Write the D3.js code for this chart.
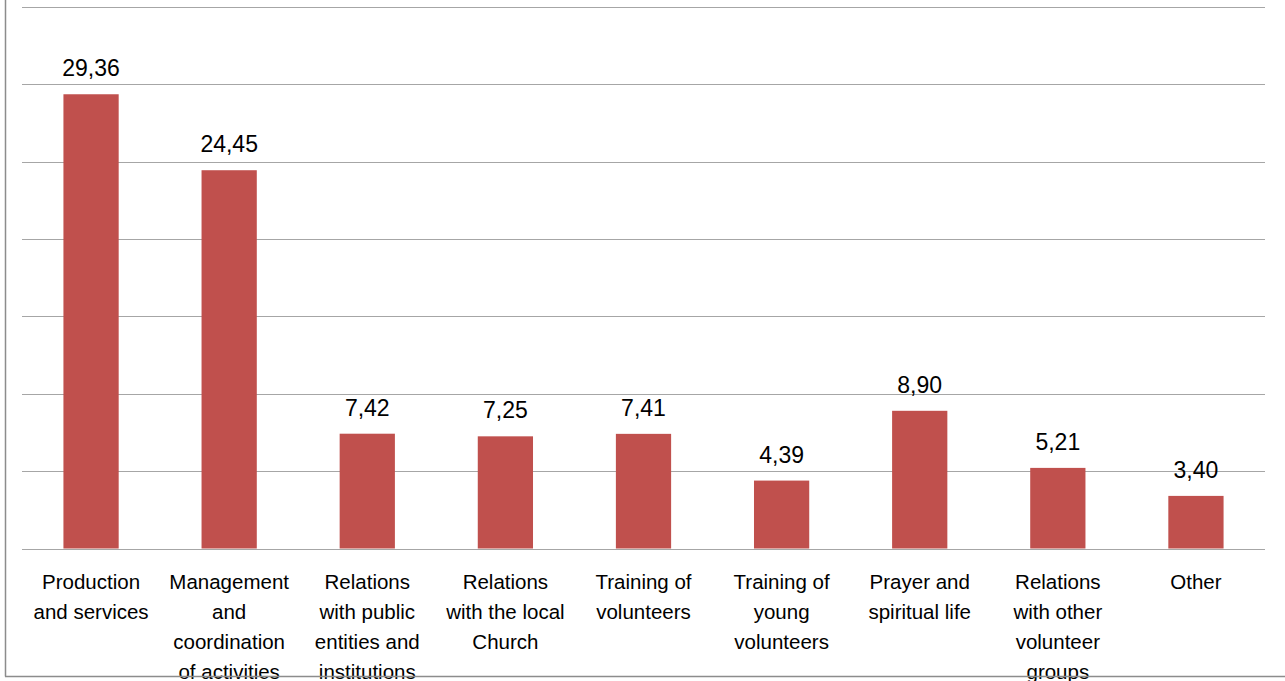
<!DOCTYPE html>
<html>
<head>
<meta charset="utf-8">
<script src="https://cdn.jsdelivr.net/npm/d3@7"></script>
<style>
html,body{margin:0;padding:0;background:#fff;overflow:hidden;}
svg{display:block;}
</style>
</head>
<body>
<script>
const categories = [
  "Production and services",
  "Management and coordination of activities",
  "Relations with public entities and institutions",
  "Relations with the local Church",
  "Training of volunteers",
  "Training of young volunteers",
  "Prayer and spiritual life",
  "Relations with other volunteer groups",
  "Other"
];
const categoryLines = [
  ["Production", "and services"],
  ["Management", "and", "coordination", "of activities"],
  ["Relations", "with public", "entities and", "institutions"],
  ["Relations", "with the local", "Church"],
  ["Training of", "volunteers"],
  ["Training of", "young", "volunteers"],
  ["Prayer and", "spiritual life"],
  ["Relations", "with other", "volunteer", "groups"],
  ["Other"]
];
const values = [29.36, 24.45, 7.42, 7.25, 7.41, 4.39, 8.90, 5.21, 3.40];
const valueLabels = ["29,36", "24,45", "7,42", "7,25", "7,41", "4,39", "8,90", "5,21", "3,40"];
const gridTicks = [0, 5, 10, 15, 20, 25, 30, 35];

const W = 1285, H = 681;
const svg = d3.select("body").append("svg").attr("width", W).attr("height", H);

const x = d3.scaleBand().domain(categories).range([22, 1265]).paddingInner(0.6).paddingOuter(0.3);
const y = d3.scaleLinear().domain([0, 35]).range([548.5, 7]);

// frame
svg.append("line").attr("x1", 5.5).attr("x2", 5.5).attr("y1", 0).attr("y2", 676.5)
  .attr("stroke", "#8c8c8c").attr("stroke-width", 1.5);

// gridlines
svg.append("g").selectAll("line").data(gridTicks).join("line")
  .attr("x1", 22).attr("x2", 1265)
  .attr("y1", d => Math.round(y(d)) + 0.5).attr("y2", d => Math.round(y(d)) + 0.5)
  .attr("stroke", "#a6a6a6").attr("stroke-width", 1);

// bars
svg.append("g").selectAll("rect").data(values).join("rect")
  .attr("x", (d, i) => x(categories[i]))
  .attr("width", x.bandwidth())
  .attr("y", d => y(d))
  .attr("height", d => y(0) - y(d))
  .attr("fill", "#C0504D");

// value labels
svg.append("g").selectAll("text").data(values).join("text")
  .attr("x", (d, i) => x(categories[i]) + x.bandwidth() / 2)
  .attr("y", d => y(d) - 18)
  .attr("text-anchor", "middle")
  .attr("font-family", "'Liberation Sans', Arial, sans-serif")
  .attr("font-size", 23)
  .attr("fill", "#000")
  .text((d, i) => valueLabels[i]);

// category labels
const cg = svg.append("g");
categoryLines.forEach((lines, i) => {
  const t = cg.append("text")
    .attr("x", x(categories[i]) + x.bandwidth() / 2)
    .attr("y", 589)
    .attr("text-anchor", "middle")
    .attr("font-family", "'Liberation Sans', Arial, sans-serif")
    .attr("font-size", 20.5)
    .attr("fill", "#000");
  lines.forEach((l, j) => {
    t.append("tspan").attr("x", x(categories[i]) + x.bandwidth() / 2).attr("y", 589 + j * 30).text(l);
  });
});

svg.append("line").attr("x1", 5).attr("x2", W).attr("y1", 676.5).attr("y2", 676.5)
  .attr("stroke", "#8c8c8c").attr("stroke-width", 1.5);
</script>
</body>
</html>
